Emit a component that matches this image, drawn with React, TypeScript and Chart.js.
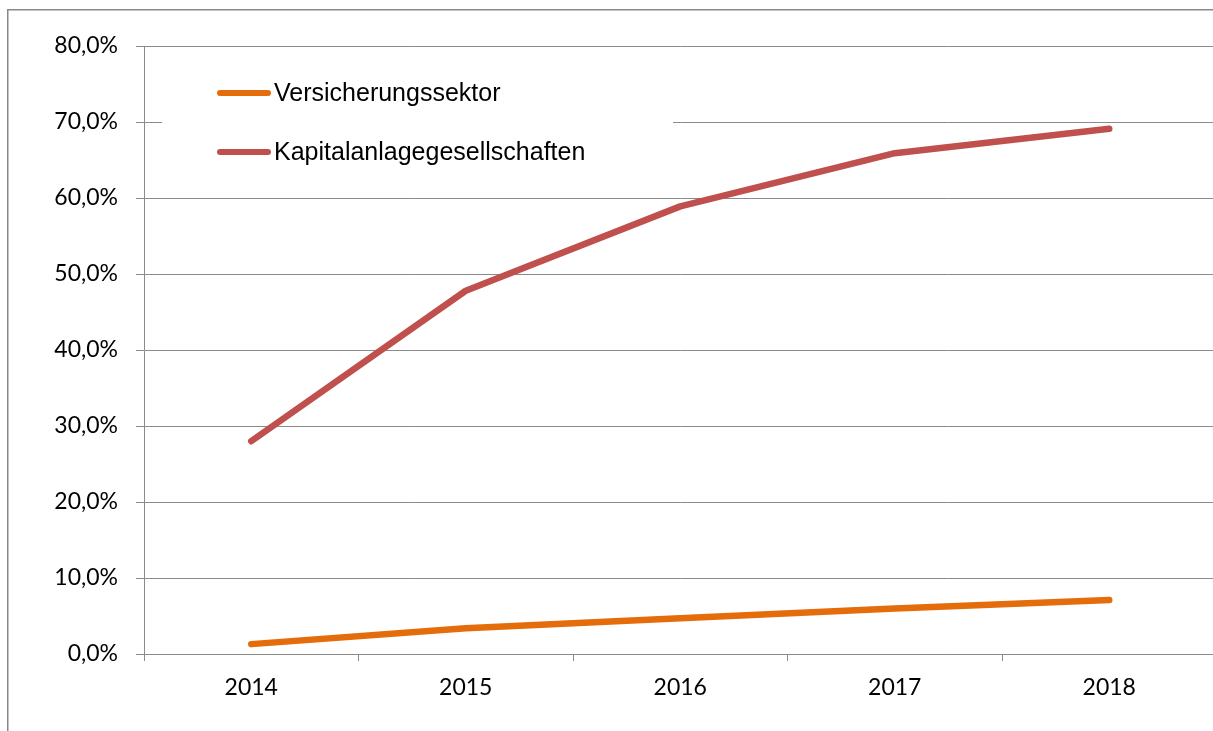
import React, { useEffect, useRef } from "react";
import { Chart, registerables } from "chart.js";

Chart.register(...registerables);

const categories = ["2014", "2015", "2016", "2017", "2018"];
const seriesLabels = ["Versicherungssektor", "Kapitalanlagegesellschaften"];
const versicherung = [1.3, 3.4, 4.7, 6.0, 7.1];
const kapital = [28.0, 47.8, 58.9, 65.9, 69.1];
const seriesColors = ["#E46C0A", "#C0504D"];
const yTicks = [0, 10, 20, 30, 40, 50, 60, 70, 80];

const GRID = "#8a8a8a";
const AXIS_FONT = "Lato";

const framePlugin = {
  id: "frame",
  beforeDraw(chart: any) {
    const ctx = chart.ctx;
    ctx.save();
    ctx.fillStyle = "#ffffff";
    ctx.fillRect(0, 0, chart.width, chart.height);
    ctx.strokeStyle = "#888888";
    ctx.lineWidth = 1.5;
    ctx.beginPath();
    ctx.moveTo(7.75, chart.height + 5);
    ctx.lineTo(7.75, 9.75);
    ctx.lineTo(chart.width + 5, 9.75);
    ctx.stroke();
    ctx.restore();
  },
};

const innerLegendPlugin = {
  id: "innerLegend",
  beforeDatasetsDraw(chart: any) {
    const ctx = chart.ctx;
    ctx.save();
    ctx.fillStyle = "#ffffff";
    ctx.fillRect(162, 64, 511, 116);
    const rows = [93, 152];
    chart.data.datasets.forEach((ds: any, i: number) => {
      const y = rows[i];
      ctx.strokeStyle = ds.borderColor;
      ctx.lineWidth = 6;
      ctx.lineCap = "round";
      ctx.beginPath();
      ctx.moveTo(220, y);
      ctx.lineTo(268, y);
      ctx.stroke();
      ctx.fillStyle = "#000000";
      ctx.font = "25px 'Liberation Sans', Arial, sans-serif";
      ctx.textBaseline = "middle";
      ctx.textAlign = "left";
      ctx.fillText(ds.label, 274, y + 1);
    });
    ctx.restore();
  },
};

export default function App() {
  const ref = useRef<HTMLCanvasElement | null>(null);

  useEffect(() => {
    if (!ref.current) return;
    const chart = new Chart(ref.current, {
      type: "line",
      data: {
        labels: categories,
        datasets: [
          {
            label: seriesLabels[0],
            data: versicherung,
            borderColor: seriesColors[0],
            backgroundColor: seriesColors[0],
            borderWidth: 6.5,
            borderCapStyle: "round",
            borderJoinStyle: "round",
            pointRadius: 0,
            tension: 0,
          },
          {
            label: seriesLabels[1],
            data: kapital,
            borderColor: seriesColors[1],
            backgroundColor: seriesColors[1],
            borderWidth: 6.5,
            borderCapStyle: "round",
            borderJoinStyle: "round",
            pointRadius: 0,
            tension: 0,
          },
        ],
      },
      options: {
        responsive: false,
        animation: false,
        devicePixelRatio: 1,
        layout: { padding: { top: 46, right: 5.5, left: 0, bottom: 0 } },
        plugins: {
          legend: { display: false },
          tooltip: { enabled: false },
        },
        scales: {
          x: {
            type: "category",
            offset: true,
            grid: {
              display: true,
              drawOnChartArea: false,
              drawTicks: true,
              tickLength: 7,
              color: GRID,
              lineWidth: 1,
              offset: true,
            },
            border: { display: true, color: GRID, width: 1 },
            ticks: {
              color: "#000000",
              font: { family: AXIS_FONT, size: 23 },
              padding: 13,
              maxRotation: 0,
            },
            afterFit(scale: any) {
              scale.height = 77;
            },
          },
          y: {
            min: 0,
            max: 80,
            afterBuildTicks(scale: any) {
              scale.ticks = yTicks.map((v) => ({ value: v }));
            },
            grid: {
              display: true,
              drawTicks: true,
              tickLength: 8,
              color: GRID,
              lineWidth: 1,
            },
            border: { display: true, color: GRID, width: 1 },
            ticks: {
              color: "#000000",
              font: { family: AXIS_FONT, size: 23 },
              padding: 18,
              callback: (v: any) => Number(v).toFixed(1).replace(".", ",") + "%",
            },
            afterFit(scale: any) {
              scale.width = 144;
            },
          },
        },
      },
      plugins: [framePlugin, innerLegendPlugin],
    });
    return () => chart.destroy();
  }, []);

  return (
    <div
      style={{
        position: "absolute",
        left: 0,
        top: 0,
        width: 1213,
        height: 731,
        overflow: "hidden",
        background: "#ffffff",
      }}
    >
      <canvas ref={ref} width={1222} height={731} style={{ display: "block" }} />
    </div>
  );
}
